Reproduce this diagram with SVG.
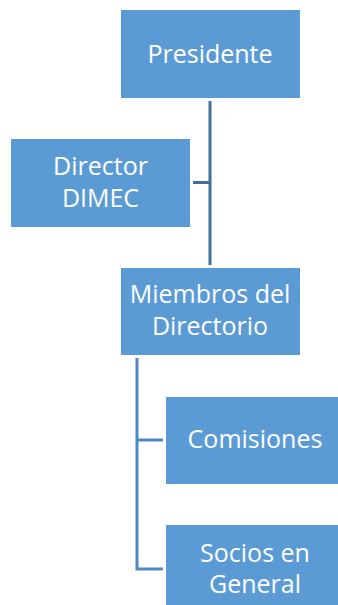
<svg xmlns="http://www.w3.org/2000/svg" width="338" height="605" viewBox="0 0 338 605">
<style>
.box{fill:#5B9BD5;stroke:#FFFFFF;stroke-width:1}
.lbl{font-family:"Open Sans","Liberation Sans",sans-serif;font-size:25px;fill:#FFFFFF;text-anchor:middle}
.c1{stroke:#41719C;stroke-width:3;fill:none}
.c2{stroke:#4F88C6;stroke-width:3;fill:none}
</style>
<rect width="338" height="605" fill="#FFFFFF"/>
<g id="connectors">
<path class="c1" d="M210 101 V265 M193 182.5 H210"/>
<path class="c2" d="M137 358 V569 H163 M137 440 H163"/>
</g>
<g id="presidente">
<rect class="box" x="120.5" y="9.5" width="180" height="89"/>
<text class="lbl" x="210" y="63">Presidente</text>
</g>
<g id="director">
<rect class="box" x="10.5" y="138.5" width="180" height="89"/>
<text class="lbl" x="100.5" y="175">Director</text>
<text class="lbl" x="100.5" y="207">DIMEC</text>
</g>
<g id="miembros">
<rect class="box" x="120.5" y="267.5" width="180" height="88"/>
<text class="lbl" x="210" y="303">Miembros del</text>
<text class="lbl" x="210" y="335">Directorio</text>
</g>
<g id="comisiones">
<rect class="box" x="165.5" y="396.5" width="180" height="88"/>
<text class="lbl" x="255" y="448">Comisiones</text>
</g>
<g id="socios">
<rect class="box" x="165.5" y="524.5" width="180" height="88"/>
<text class="lbl" x="255" y="562">Socios en</text>
<text class="lbl" x="255" y="593">General</text>
</g>
</svg>
